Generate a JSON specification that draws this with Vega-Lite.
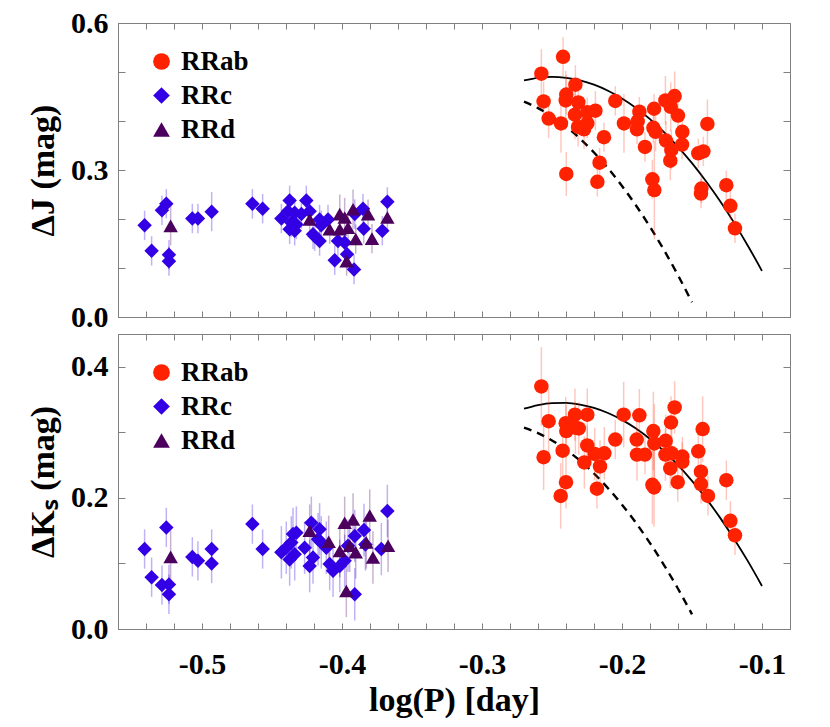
{
  "$schema": "https://vega.github.io/schema/vega-lite/v6.json",
  "padding": {"left": 26, "top": 7, "right": 10, "bottom": 5},
  "background": "white",
  "config": {
    "font": "Liberation Serif",
    "view": {"stroke": "#808080", "strokeWidth": 1},
    "axis": {
      "domainColor": "#808080", "tickColor": "#808080", "grid": false,
      "labelFont": "Liberation Serif", "labelFontWeight": "bold", "labelFontSize": 30, "labelColor": "black",
      "titleFont": "Liberation Serif", "titleFontWeight": "bold", "titleFontSize": 34, "titleColor": "black",
      "labelOverlap": false, "labelFlush": false, "labelBound": false
    },
    "legend": {"labelFont": "Liberation Serif", "labelFontWeight": "bold", "labelFontSize": 27, "labelColor": "black"}
  },
  "datasets": {
    "jpts": [
      {"type":"RRc","logP":-0.541,"dm":0.187,"err":0.03},
      {"type":"RRc","logP":-0.536,"dm":0.135,"err":0.03},
      {"type":"RRc","logP":-0.5286,"dm":0.218,"err":0.03},
      {"type":"RRc","logP":-0.5255,"dm":0.231,"err":0.03},
      {"type":"RRc","logP":-0.5236,"dm":0.127,"err":0.03},
      {"type":"RRc","logP":-0.5236,"dm":0.114,"err":0.03},
      {"type":"RRc","logP":-0.5069,"dm":0.201,"err":0.03},
      {"type":"RRc","logP":-0.5029,"dm":0.201,"err":0.03},
      {"type":"RRc","logP":-0.4931,"dm":0.215,"err":0.04},
      {"type":"RRc","logP":-0.464,"dm":0.231,"err":0.03},
      {"type":"RRc","logP":-0.4567,"dm":0.221,"err":0.03},
      {"type":"RRc","logP":-0.4374,"dm":0.238,"err":0.03},
      {"type":"RRc","logP":-0.4255,"dm":0.238,"err":0.03},
      {"type":"RRc","logP":-0.4433,"dm":0.201,"err":0.03},
      {"type":"RRc","logP":-0.4386,"dm":0.216,"err":0.03},
      {"type":"RRc","logP":-0.4338,"dm":0.213,"err":0.03},
      {"type":"RRc","logP":-0.4362,"dm":0.193,"err":0.03},
      {"type":"RRc","logP":-0.4326,"dm":0.189,"err":0.03},
      {"type":"RRc","logP":-0.4374,"dm":0.179,"err":0.03},
      {"type":"RRc","logP":-0.4338,"dm":0.176,"err":0.03},
      {"type":"RRc","logP":-0.429,"dm":0.21,"err":0.03},
      {"type":"RRc","logP":-0.4231,"dm":0.216,"err":0.03},
      {"type":"RRc","logP":-0.4207,"dm":0.169,"err":0.03},
      {"type":"RRc","logP":-0.416,"dm":0.199,"err":0.03},
      {"type":"RRc","logP":-0.4148,"dm":0.187,"err":0.03},
      {"type":"RRc","logP":-0.41,"dm":0.199,"err":0.03},
      {"type":"RRc","logP":-0.416,"dm":0.155,"err":0.03},
      {"type":"RRc","logP":-0.4195,"dm":0.165,"err":0.03},
      {"type":"RRc","logP":-0.4029,"dm":0.155,"err":0.03},
      {"type":"RRc","logP":-0.3981,"dm":0.152,"err":0.03},
      {"type":"RRc","logP":-0.4052,"dm":0.116,"err":0.03},
      {"type":"RRc","logP":-0.3964,"dm":0.128,"err":0.03},
      {"type":"RRc","logP":-0.3914,"dm":0.097,"err":0.03},
      {"type":"RRc","logP":-0.385,"dm":0.221,"err":0.03},
      {"type":"RRc","logP":-0.3909,"dm":0.21,"err":0.03},
      {"type":"RRc","logP":-0.3845,"dm":0.18,"err":0.03},
      {"type":"RRc","logP":-0.3712,"dm":0.176,"err":0.03},
      {"type":"RRc","logP":-0.3676,"dm":0.235,"err":0.03},
      {"type":"RRd","logP":-0.5224,"dm":0.186,"err":0.04},
      {"type":"RRd","logP":-0.4231,"dm":0.199,"err":0.03},
      {"type":"RRd","logP":-0.4088,"dm":0.179,"err":0.03},
      {"type":"RRd","logP":-0.4016,"dm":0.21,"err":0.04},
      {"type":"RRd","logP":-0.3981,"dm":0.203,"err":0.04},
      {"type":"RRd","logP":-0.3921,"dm":0.22,"err":0.04},
      {"type":"RRd","logP":-0.3957,"dm":0.182,"err":0.03},
      {"type":"RRd","logP":-0.4016,"dm":0.179,"err":0.03},
      {"type":"RRd","logP":-0.3902,"dm":0.159,"err":0.03},
      {"type":"RRd","logP":-0.3967,"dm":0.114,"err":0.03},
      {"type":"RRd","logP":-0.3814,"dm":0.21,"err":0.03},
      {"type":"RRd","logP":-0.3786,"dm":0.16,"err":0.03},
      {"type":"RRd","logP":-0.3676,"dm":0.203,"err":0.03},
      {"type":"RRab","logP":-0.2576,"dm":0.4966,"err":0.05},
      {"type":"RRab","logP":-0.2421,"dm":0.531,"err":0.04},
      {"type":"RRab","logP":-0.256,"dm":0.44,"err":0.04},
      {"type":"RRab","logP":-0.2524,"dm":0.405,"err":0.04},
      {"type":"RRab","logP":-0.2436,"dm":0.395,"err":0.06},
      {"type":"RRab","logP":-0.2398,"dm":0.454,"err":0.04},
      {"type":"RRab","logP":-0.2402,"dm":0.442,"err":0.06},
      {"type":"RRab","logP":-0.2333,"dm":0.474,"err":0.04},
      {"type":"RRab","logP":-0.2312,"dm":0.438,"err":0.03},
      {"type":"RRab","logP":-0.2336,"dm":0.413,"err":0.05},
      {"type":"RRab","logP":-0.2314,"dm":0.388,"err":0.04},
      {"type":"RRab","logP":-0.2271,"dm":0.383,"err":0.04},
      {"type":"RRab","logP":-0.2248,"dm":0.395,"err":0.03},
      {"type":"RRab","logP":-0.2248,"dm":0.418,"err":0.03},
      {"type":"RRab","logP":-0.219,"dm":0.421,"err":0.04},
      {"type":"RRab","logP":-0.2129,"dm":0.367,"err":0.03},
      {"type":"RRab","logP":-0.2398,"dm":0.292,"err":0.045},
      {"type":"RRab","logP":-0.216,"dm":0.315,"err":0.03},
      {"type":"RRab","logP":-0.2176,"dm":0.276,"err":0.03},
      {"type":"RRab","logP":-0.2048,"dm":0.441,"err":0.03},
      {"type":"RRab","logP":-0.1986,"dm":0.395,"err":0.06},
      {"type":"RRab","logP":-0.1876,"dm":0.419,"err":0.03},
      {"type":"RRab","logP":-0.1888,"dm":0.399,"err":0.03},
      {"type":"RRab","logP":-0.1893,"dm":0.383,"err":0.03},
      {"type":"RRab","logP":-0.1836,"dm":0.347,"err":0.03},
      {"type":"RRab","logP":-0.1771,"dm":0.425,"err":0.03},
      {"type":"RRab","logP":-0.1776,"dm":0.386,"err":0.03},
      {"type":"RRab","logP":-0.176,"dm":0.378,"err":0.04},
      {"type":"RRab","logP":-0.1783,"dm":0.281,"err":0.04},
      {"type":"RRab","logP":-0.1769,"dm":0.259,"err":0.1},
      {"type":"RRab","logP":-0.169,"dm":0.442,"err":0.05},
      {"type":"RRab","logP":-0.1624,"dm":0.451,"err":0.05},
      {"type":"RRab","logP":-0.1652,"dm":0.429,"err":0.05},
      {"type":"RRab","logP":-0.16,"dm":0.411,"err":0.03},
      {"type":"RRab","logP":-0.1686,"dm":0.36,"err":0.04},
      {"type":"RRab","logP":-0.1648,"dm":0.341,"err":0.04},
      {"type":"RRab","logP":-0.1655,"dm":0.319,"err":0.04},
      {"type":"RRab","logP":-0.1569,"dm":0.378,"err":0.03},
      {"type":"RRab","logP":-0.1571,"dm":0.352,"err":0.03},
      {"type":"RRab","logP":-0.139,"dm":0.394,"err":0.05},
      {"type":"RRab","logP":-0.1455,"dm":0.334,"err":0.03},
      {"type":"RRab","logP":-0.1419,"dm":0.338,"err":0.03},
      {"type":"RRab","logP":-0.1433,"dm":0.262,"err":0.03},
      {"type":"RRab","logP":-0.1436,"dm":0.252,"err":0.03},
      {"type":"RRab","logP":-0.1255,"dm":0.269,"err":0.03},
      {"type":"RRab","logP":-0.1226,"dm":0.227,"err":0.03},
      {"type":"RRab","logP":-0.1193,"dm":0.181,"err":0.03}
    ],
    "kpts": [
      {"type":"RRc","logP":-0.541,"dm":0.122,"err":0.03},
      {"type":"RRc","logP":-0.536,"dm":0.079,"err":0.03},
      {"type":"RRc","logP":-0.5286,"dm":0.067,"err":0.03},
      {"type":"RRc","logP":-0.5255,"dm":0.155,"err":0.03},
      {"type":"RRc","logP":-0.5236,"dm":0.068,"err":0.03},
      {"type":"RRc","logP":-0.5236,"dm":0.053,"err":0.03},
      {"type":"RRc","logP":-0.5069,"dm":0.11,"err":0.03},
      {"type":"RRc","logP":-0.5029,"dm":0.104,"err":0.03},
      {"type":"RRc","logP":-0.4931,"dm":0.122,"err":0.03},
      {"type":"RRc","logP":-0.4931,"dm":0.1,"err":0.03},
      {"type":"RRc","logP":-0.464,"dm":0.16,"err":0.03},
      {"type":"RRc","logP":-0.4567,"dm":0.122,"err":0.03},
      {"type":"RRc","logP":-0.4433,"dm":0.117,"err":0.04},
      {"type":"RRc","logP":-0.4398,"dm":0.124,"err":0.04},
      {"type":"RRc","logP":-0.4374,"dm":0.106,"err":0.04},
      {"type":"RRc","logP":-0.435,"dm":0.145,"err":0.04},
      {"type":"RRc","logP":-0.4326,"dm":0.147,"err":0.04},
      {"type":"RRc","logP":-0.4362,"dm":0.132,"err":0.04},
      {"type":"RRc","logP":-0.4338,"dm":0.114,"err":0.04},
      {"type":"RRc","logP":-0.4267,"dm":0.124,"err":0.04},
      {"type":"RRc","logP":-0.4219,"dm":0.162,"err":0.04},
      {"type":"RRc","logP":-0.4231,"dm":0.096,"err":0.04},
      {"type":"RRc","logP":-0.4207,"dm":0.109,"err":0.04},
      {"type":"RRc","logP":-0.416,"dm":0.152,"err":0.04},
      {"type":"RRc","logP":-0.4171,"dm":0.137,"err":0.04},
      {"type":"RRc","logP":-0.4148,"dm":0.132,"err":0.04},
      {"type":"RRc","logP":-0.4112,"dm":0.124,"err":0.04},
      {"type":"RRc","logP":-0.4088,"dm":0.099,"err":0.04},
      {"type":"RRc","logP":-0.4064,"dm":0.089,"err":0.04},
      {"type":"RRc","logP":-0.4016,"dm":0.096,"err":0.04},
      {"type":"RRc","logP":-0.3981,"dm":0.104,"err":0.04},
      {"type":"RRc","logP":-0.3957,"dm":0.127,"err":0.04},
      {"type":"RRc","logP":-0.3909,"dm":0.142,"err":0.04},
      {"type":"RRc","logP":-0.3843,"dm":0.151,"err":0.04},
      {"type":"RRc","logP":-0.3833,"dm":0.129,"err":0.04},
      {"type":"RRc","logP":-0.3719,"dm":0.122,"err":0.04},
      {"type":"RRc","logP":-0.3676,"dm":0.18,"err":0.04},
      {"type":"RRc","logP":-0.3909,"dm":0.053,"err":0.04},
      {"type":"RRd","logP":-0.5224,"dm":0.11,"err":0.04},
      {"type":"RRd","logP":-0.4231,"dm":0.15,"err":0.04},
      {"type":"RRd","logP":-0.4095,"dm":0.133,"err":0.04},
      {"type":"RRd","logP":-0.4016,"dm":0.119,"err":0.04},
      {"type":"RRd","logP":-0.3981,"dm":0.162,"err":0.04},
      {"type":"RRd","logP":-0.3921,"dm":0.167,"err":0.04},
      {"type":"RRd","logP":-0.3945,"dm":0.127,"err":0.04},
      {"type":"RRd","logP":-0.3902,"dm":0.117,"err":0.04},
      {"type":"RRd","logP":-0.3826,"dm":0.132,"err":0.04},
      {"type":"RRd","logP":-0.3802,"dm":0.173,"err":0.04},
      {"type":"RRd","logP":-0.3779,"dm":0.109,"err":0.04},
      {"type":"RRd","logP":-0.3671,"dm":0.127,"err":0.04},
      {"type":"RRd","logP":-0.3969,"dm":0.058,"err":0.04},
      {"type":"RRab","logP":-0.2576,"dm":0.37,"err":0.06},
      {"type":"RRab","logP":-0.2524,"dm":0.317,"err":0.05},
      {"type":"RRab","logP":-0.256,"dm":0.262,"err":0.05},
      {"type":"RRab","logP":-0.2424,"dm":0.272,"err":0.04},
      {"type":"RRab","logP":-0.2402,"dm":0.314,"err":0.04},
      {"type":"RRab","logP":-0.2398,"dm":0.302,"err":0.04},
      {"type":"RRab","logP":-0.24,"dm":0.224,"err":0.04},
      {"type":"RRab","logP":-0.2438,"dm":0.203,"err":0.05},
      {"type":"RRab","logP":-0.2336,"dm":0.327,"err":0.04},
      {"type":"RRab","logP":-0.2333,"dm":0.307,"err":0.04},
      {"type":"RRab","logP":-0.2309,"dm":0.306,"err":0.04},
      {"type":"RRab","logP":-0.2248,"dm":0.327,"err":0.04},
      {"type":"RRab","logP":-0.2248,"dm":0.28,"err":0.03},
      {"type":"RRab","logP":-0.2269,"dm":0.254,"err":0.04},
      {"type":"RRab","logP":-0.2195,"dm":0.267,"err":0.04},
      {"type":"RRab","logP":-0.2157,"dm":0.248,"err":0.04},
      {"type":"RRab","logP":-0.2179,"dm":0.214,"err":0.03},
      {"type":"RRab","logP":-0.2126,"dm":0.268,"err":0.04},
      {"type":"RRab","logP":-0.2048,"dm":0.289,"err":0.03},
      {"type":"RRab","logP":-0.1988,"dm":0.327,"err":0.05},
      {"type":"RRab","logP":-0.1895,"dm":0.289,"err":0.03},
      {"type":"RRab","logP":-0.1876,"dm":0.326,"err":0.04},
      {"type":"RRab","logP":-0.1893,"dm":0.266,"err":0.04},
      {"type":"RRab","logP":-0.1836,"dm":0.266,"err":0.03},
      {"type":"RRab","logP":-0.1776,"dm":0.302,"err":0.06},
      {"type":"RRab","logP":-0.1769,"dm":0.283,"err":0.06},
      {"type":"RRab","logP":-0.1783,"dm":0.22,"err":0.06},
      {"type":"RRab","logP":-0.1771,"dm":0.216,"err":0.06},
      {"type":"RRab","logP":-0.1688,"dm":0.287,"err":0.04},
      {"type":"RRab","logP":-0.169,"dm":0.266,"err":0.04},
      {"type":"RRab","logP":-0.1655,"dm":0.245,"err":0.03},
      {"type":"RRab","logP":-0.165,"dm":0.315,"err":0.04},
      {"type":"RRab","logP":-0.1624,"dm":0.338,"err":0.04},
      {"type":"RRab","logP":-0.1645,"dm":0.268,"err":0.04},
      {"type":"RRab","logP":-0.1569,"dm":0.263,"err":0.03},
      {"type":"RRab","logP":-0.1569,"dm":0.255,"err":0.03},
      {"type":"RRab","logP":-0.1602,"dm":0.224,"err":0.03},
      {"type":"RRab","logP":-0.1455,"dm":0.271,"err":0.03},
      {"type":"RRab","logP":-0.1424,"dm":0.305,"err":0.05},
      {"type":"RRab","logP":-0.1436,"dm":0.24,"err":0.03},
      {"type":"RRab","logP":-0.1436,"dm":0.221,"err":0.03},
      {"type":"RRab","logP":-0.1386,"dm":0.203,"err":0.03},
      {"type":"RRab","logP":-0.1255,"dm":0.227,"err":0.03},
      {"type":"RRab","logP":-0.1226,"dm":0.165,"err":0.03},
      {"type":"RRab","logP":-0.1193,"dm":0.143,"err":0.03}
    ],
    "jcurve": [
      {"curve":"solid","logP":-0.27,"dm":0.483},
      {"curve":"solid","logP":-0.26,"dm":0.4882},
      {"curve":"solid","logP":-0.25,"dm":0.49},
      {"curve":"solid","logP":-0.24,"dm":0.4882},
      {"curve":"solid","logP":-0.23,"dm":0.483},
      {"curve":"solid","logP":-0.22,"dm":0.4742},
      {"curve":"solid","logP":-0.21,"dm":0.4618},
      {"curve":"solid","logP":-0.2,"dm":0.446},
      {"curve":"solid","logP":-0.19,"dm":0.4266},
      {"curve":"solid","logP":-0.18,"dm":0.4038},
      {"curve":"solid","logP":-0.17,"dm":0.3774},
      {"curve":"solid","logP":-0.16,"dm":0.3474},
      {"curve":"solid","logP":-0.15,"dm":0.314},
      {"curve":"solid","logP":-0.14,"dm":0.277},
      {"curve":"solid","logP":-0.13,"dm":0.2366},
      {"curve":"solid","logP":-0.12,"dm":0.1926},
      {"curve":"solid","logP":-0.11,"dm":0.145},
      {"curve":"solid","logP":-0.1,"dm":0.094},
      {"curve":"dashed","logP":-0.27,"dm":0.4394},
      {"curve":"dashed","logP":-0.26,"dm":0.4263},
      {"curve":"dashed","logP":-0.25,"dm":0.4094},
      {"curve":"dashed","logP":-0.24,"dm":0.3886},
      {"curve":"dashed","logP":-0.23,"dm":0.3641},
      {"curve":"dashed","logP":-0.22,"dm":0.3357},
      {"curve":"dashed","logP":-0.21,"dm":0.3035},
      {"curve":"dashed","logP":-0.2,"dm":0.2675},
      {"curve":"dashed","logP":-0.19,"dm":0.2276},
      {"curve":"dashed","logP":-0.18,"dm":0.184},
      {"curve":"dashed","logP":-0.17,"dm":0.1365},
      {"curve":"dashed","logP":-0.16,"dm":0.0852},
      {"curve":"dashed","logP":-0.15,"dm":0.0301}
    ],
    "kcurve": [
      {"curve":"solid","logP":-0.27,"dm":0.336},
      {"curve":"solid","logP":-0.26,"dm":0.3416},
      {"curve":"solid","logP":-0.25,"dm":0.3446},
      {"curve":"solid","logP":-0.24,"dm":0.3449},
      {"curve":"solid","logP":-0.23,"dm":0.3424},
      {"curve":"solid","logP":-0.22,"dm":0.3373},
      {"curve":"solid","logP":-0.21,"dm":0.3295},
      {"curve":"solid","logP":-0.2,"dm":0.319},
      {"curve":"solid","logP":-0.19,"dm":0.3058},
      {"curve":"solid","logP":-0.18,"dm":0.2899},
      {"curve":"solid","logP":-0.17,"dm":0.2713},
      {"curve":"solid","logP":-0.16,"dm":0.25},
      {"curve":"solid","logP":-0.15,"dm":0.226},
      {"curve":"solid","logP":-0.14,"dm":0.1993},
      {"curve":"solid","logP":-0.13,"dm":0.1699},
      {"curve":"solid","logP":-0.12,"dm":0.1378},
      {"curve":"solid","logP":-0.11,"dm":0.1031},
      {"curve":"solid","logP":-0.1,"dm":0.0656},
      {"curve":"dashed","logP":-0.27,"dm":0.3073},
      {"curve":"dashed","logP":-0.26,"dm":0.2988},
      {"curve":"dashed","logP":-0.25,"dm":0.2876},
      {"curve":"dashed","logP":-0.24,"dm":0.2736},
      {"curve":"dashed","logP":-0.23,"dm":0.2568},
      {"curve":"dashed","logP":-0.22,"dm":0.2372},
      {"curve":"dashed","logP":-0.21,"dm":0.2148},
      {"curve":"dashed","logP":-0.2,"dm":0.1897},
      {"curve":"dashed","logP":-0.19,"dm":0.1618},
      {"curve":"dashed","logP":-0.18,"dm":0.1311},
      {"curve":"dashed","logP":-0.17,"dm":0.0976},
      {"curve":"dashed","logP":-0.16,"dm":0.0614},
      {"curve":"dashed","logP":-0.15,"dm":0.0224}
    ]
  },
  "vconcat": [
    {
      "width": 672, "height": 294,
      "layer": [
        {
          "data": {"name": "jcurve"},
          "transform": [{"filter": "datum.curve == 'solid'"}],
          "mark": {"type": "line", "color": "black", "strokeWidth": 1.8, "interpolate": "monotone"},
          "encoding": {
            "x": {"field": "logP", "type": "quantitative", "scale": {"domain": [-0.56, -0.08], "nice": false, "zero": false},
                  "axis": {"orient": "bottom", "values": [-0.56,-0.54,-0.52,-0.5,-0.48,-0.46,-0.44,-0.42,-0.4,-0.38,-0.36,-0.34,-0.32,-0.3,-0.28,-0.26,-0.24,-0.22,-0.2,-0.18,-0.16,-0.14,-0.12,-0.1,-0.08], "labels": false, "tickSize": -6, "title": null}},
            "y": {"field": "dm", "type": "quantitative", "scale": {"domain": [0, 0.6], "nice": false, "zero": false},
                  "axis": {"orient": "left", "values": [0, 0.1, 0.2, 0.3, 0.4, 0.5, 0.6], "tickSize": -7, "labelPadding": 17,
                           "labelExpr": "(datum.value == 0 || datum.value == 0.3 || datum.value == 0.6) ? format(datum.value, '.1f') : ''",
                           "title": "ΔJ (mag)", "titlePadding": 10}}
          }
        },
        {
          "data": {"name": "jcurve"},
          "transform": [{"filter": "datum.curve == 'dashed'"}],
          "mark": {"type": "line", "color": "black", "strokeWidth": 2.4, "strokeDash": [8, 6], "interpolate": "monotone"},
          "encoding": {
            "x": {"field": "logP", "type": "quantitative", "axis": null},
            "y": {"field": "dm", "type": "quantitative", "axis": null}
          }
        },
        {
          "data": {"name": "jpts"},
          "transform": [{"filter": "datum.type == 'RRc'"}],
          "mark": {"type": "errorbar", "color": "#3300E6", "opacity": 0.3, "thickness": 1.5},
          "encoding": {
            "x": {"field": "logP", "type": "quantitative", "axis": null},
            "y": {"field": "dm", "type": "quantitative", "axis": null},
            "yError": {"field": "err"}
          }
        },
        {
          "data": {"name": "jpts"},
          "transform": [{"filter": "datum.type == 'RRd'"}],
          "mark": {"type": "errorbar", "color": "#4B005E", "opacity": 0.3, "thickness": 1.5},
          "encoding": {
            "x": {"field": "logP", "type": "quantitative", "axis": null},
            "y": {"field": "dm", "type": "quantitative", "axis": null},
            "yError": {"field": "err"}
          }
        },
        {
          "data": {"name": "jpts"},
          "transform": [{"filter": "datum.type == 'RRab'"}],
          "mark": {"type": "errorbar", "color": "#FF2200", "opacity": 0.25, "thickness": 1.5},
          "encoding": {
            "x": {"field": "logP", "type": "quantitative", "axis": null},
            "y": {"field": "dm", "type": "quantitative", "axis": null},
            "yError": {"field": "err"}
          }
        },
        {
          "data": {"name": "jpts"},
          "mark": {"type": "point", "filled": true, "opacity": 1, "size": 210},
          "encoding": {
            "x": {"field": "logP", "type": "quantitative",
                  "axis": {"orient": "top", "values": [-0.56,-0.54,-0.52,-0.5,-0.48,-0.46,-0.44,-0.42,-0.4,-0.38,-0.36,-0.34,-0.32,-0.3,-0.28,-0.26,-0.24,-0.22,-0.2,-0.18,-0.16,-0.14,-0.12,-0.1,-0.08], "labels": false, "tickSize": -6, "title": null}},
            "y": {"field": "dm", "type": "quantitative",
                  "axis": {"orient": "right", "values": [0, 0.1, 0.2, 0.3, 0.4, 0.5, 0.6], "labels": false, "tickSize": -7, "title": null}},
            "color": {"field": "type", "type": "nominal", "scale": {"domain": ["RRab", "RRc", "RRd"], "range": ["#FF2200", "#3300E6", "#4B005E"]},
                      "legend": {"orient": "none", "legendX": 30, "legendY": 25, "title": null, "padding": 0, "symbolSize": 280, "rowPadding": 6, "labelOffset": 6, "symbolStrokeWidth": 0}},
            "shape": {"field": "type", "type": "nominal", "scale": {"domain": ["RRab", "RRc", "RRd"], "range": ["circle", "diamond", "triangle-up"]},
                      "legend": {"orient": "none", "legendX": 30, "legendY": 25, "title": null, "padding": 0, "symbolSize": 280, "rowPadding": 6, "labelOffset": 6, "symbolStrokeWidth": 0}}
          }
        }
      ],
      "resolve": {"axis": {"x": "independent", "y": "independent"}}
    },
    {
      "width": 672, "height": 295,
      "layer": [
        {
          "data": {"name": "kcurve"},
          "transform": [{"filter": "datum.curve == 'solid'"}],
          "mark": {"type": "line", "color": "black", "strokeWidth": 1.8, "interpolate": "monotone"},
          "encoding": {
            "x": {"field": "logP", "type": "quantitative", "scale": {"domain": [-0.56, -0.08], "nice": false, "zero": false},
                  "axis": {"orient": "bottom", "values": [-0.56,-0.54,-0.52,-0.5,-0.48,-0.46,-0.44,-0.42,-0.4,-0.38,-0.36,-0.34,-0.32,-0.3,-0.28,-0.26,-0.24,-0.22,-0.2,-0.18,-0.16,-0.14,-0.12,-0.1,-0.08], "tickSize": -6, "labelPadding": 26,
                           "labelExpr": "indexof([-0.5, -0.4, -0.3, -0.2, -0.1], datum.value) >= 0 ? '-' + format(-datum.value, '.1f') : ''",
                           "title": "log(P) [day]", "titlePadding": 4}},
            "y": {"field": "dm", "type": "quantitative", "scale": {"domain": [0, 0.45], "nice": false, "zero": false},
                  "axis": {"orient": "left", "values": [0, 0.1, 0.2, 0.3, 0.4], "tickSize": -7, "labelPadding": 17,
                           "labelExpr": "(datum.value == 0 || datum.value == 0.2 || datum.value == 0.4) ? format(datum.value, '.1f') : ''",
                           "title": "ΔKₛ (mag)", "titlePadding": 10}}
          }
        },
        {
          "data": {"name": "kcurve"},
          "transform": [{"filter": "datum.curve == 'dashed'"}],
          "mark": {"type": "line", "color": "black", "strokeWidth": 2.4, "strokeDash": [8, 6], "interpolate": "monotone"},
          "encoding": {
            "x": {"field": "logP", "type": "quantitative", "axis": null},
            "y": {"field": "dm", "type": "quantitative", "axis": null}
          }
        },
        {
          "data": {"name": "kpts"},
          "transform": [{"filter": "datum.type == 'RRc'"}],
          "mark": {"type": "errorbar", "color": "#3300E6", "opacity": 0.3, "thickness": 1.5},
          "encoding": {
            "x": {"field": "logP", "type": "quantitative", "axis": null},
            "y": {"field": "dm", "type": "quantitative", "axis": null},
            "yError": {"field": "err"}
          }
        },
        {
          "data": {"name": "kpts"},
          "transform": [{"filter": "datum.type == 'RRd'"}],
          "mark": {"type": "errorbar", "color": "#4B005E", "opacity": 0.3, "thickness": 1.5},
          "encoding": {
            "x": {"field": "logP", "type": "quantitative", "axis": null},
            "y": {"field": "dm", "type": "quantitative", "axis": null},
            "yError": {"field": "err"}
          }
        },
        {
          "data": {"name": "kpts"},
          "transform": [{"filter": "datum.type == 'RRab'"}],
          "mark": {"type": "errorbar", "color": "#FF2200", "opacity": 0.25, "thickness": 1.5},
          "encoding": {
            "x": {"field": "logP", "type": "quantitative", "axis": null},
            "y": {"field": "dm", "type": "quantitative", "axis": null},
            "yError": {"field": "err"}
          }
        },
        {
          "data": {"name": "kpts"},
          "mark": {"type": "point", "filled": true, "opacity": 1, "size": 210},
          "encoding": {
            "x": {"field": "logP", "type": "quantitative",
                  "axis": {"orient": "top", "values": [-0.56,-0.54,-0.52,-0.5,-0.48,-0.46,-0.44,-0.42,-0.4,-0.38,-0.36,-0.34,-0.32,-0.3,-0.28,-0.26,-0.24,-0.22,-0.2,-0.18,-0.16,-0.14,-0.12,-0.1,-0.08], "labels": false, "tickSize": -6, "title": null}},
            "y": {"field": "dm", "type": "quantitative",
                  "axis": {"orient": "right", "values": [0, 0.1, 0.2, 0.3, 0.4], "labels": false, "tickSize": -7, "title": null}},
            "color": {"field": "type", "type": "nominal", "scale": {"domain": ["RRab", "RRc", "RRd"], "range": ["#FF2200", "#3300E6", "#4B005E"]},
                      "legend": {"orient": "none", "legendX": 30, "legendY": 25, "title": null, "padding": 0, "symbolSize": 280, "rowPadding": 6, "labelOffset": 6, "symbolStrokeWidth": 0}},
            "shape": {"field": "type", "type": "nominal", "scale": {"domain": ["RRab", "RRc", "RRd"], "range": ["circle", "diamond", "triangle-up"]},
                      "legend": {"orient": "none", "legendX": 30, "legendY": 25, "title": null, "padding": 0, "symbolSize": 280, "rowPadding": 6, "labelOffset": 6, "symbolStrokeWidth": 0}}
          }
        }
      ],
      "resolve": {"axis": {"x": "independent", "y": "independent"}}
    }
  ],
  "spacing": 0,
  "resolve": {"legend": {"color": "independent", "shape": "independent"}, "scale": {"color": "independent", "shape": "independent"}}
}
